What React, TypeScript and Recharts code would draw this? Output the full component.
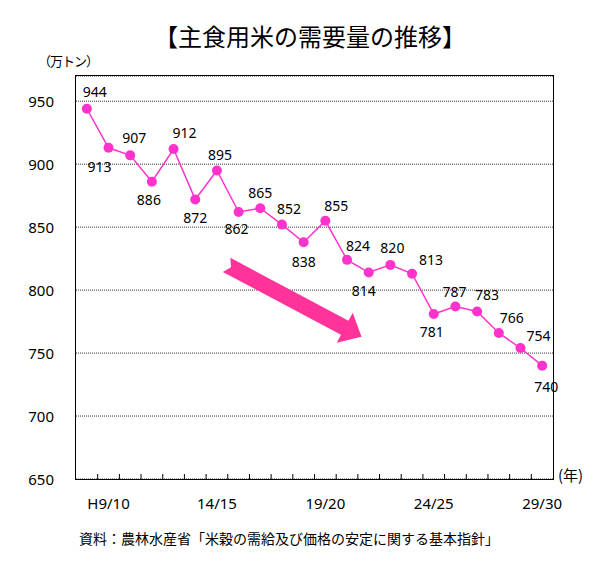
import React from 'react';
import { CartesianGrid, LabelList, Line, LineChart, ReferenceLine, XAxis, YAxis } from 'recharts';

const years = [
  'H8/9', 'H9/10', '10/11', '11/12', '12/13', '13/14', '14/15', '15/16', '16/17', '17/18', '18/19',
  '19/20', '20/21', '21/22', '22/23', '23/24', '24/25', '25/26', '26/27', '27/28', '28/29', '29/30',
];
const demand = [944, 913, 907, 886, 912, 872, 895, 862, 865, 852, 838, 855, 824, 814, 820, 813, 781, 787, 783, 766, 754, 740];
const shownYears = ['H9/10', '14/15', '19/20', '24/25', '29/30'];
const yTicks = [650, 700, 750, 800, 850, 900, 950];

const data = years.map((year, i) => ({ year, value: demand[i] }));

// where each value label sits relative to its point
const labelOffsets: [number, number][] = [
  [8, -17], [-9, 19], [4, -18], [-3, 18], [11, -17], [0, 18], [3, -16], [-2, 16], [0, -16], [7, -16], [0, 19],
  [11, -15], [11, -14], [-5, 18], [2, -17], [19, -14], [-2, 17], [-1, -15], [10, -17], [13, -15], [18, -13], [4, 21],
];

const W = 600;
const H = 566;
const PLOT_LEFT = 76;
const PLOT_RIGHT = 553;
const PLOT_TOP = 76;
const PLOT_BOTTOM = 479;
const BAND = (PLOT_RIGHT - PLOT_LEFT) / years.length;
const PINK = '#ff33cc';
const FONT = '"Noto Sans", sans-serif';
const JP = '"Noto Sans CJK JP", sans-serif';

const XTick = (props: any) => {
  const { x, payload } = props;
  const idx = payload.index;
  const bx = x + BAND / 2;
  return (
    <g>
      {idx < years.length - 1 && <line x1={bx} x2={bx} y1={PLOT_BOTTOM} y2={PLOT_BOTTOM - 5} stroke="#000" strokeWidth={1} />}
      {shownYears.includes(payload.value) && (
        <text x={x} y={503} textAnchor="middle" dominantBaseline="central" fontSize={15} fill="#000" fontFamily={FONT}>
          {payload.value}
        </text>
      )}
    </g>
  );
};

const YTick = (props: any) => {
  const { y, payload } = props;
  return (
    <text x={PLOT_LEFT - 22} y={y} textAnchor="end" dominantBaseline="central" fontSize={15} fill="#000" fontFamily={FONT}>
      {payload.value}
    </text>
  );
};

const ValueLabel = (props: any) => {
  const { x, y, value, index } = props;
  const [dx, dy] = labelOffsets[index] ?? [0, -15];
  return (
    <text x={x + dx} y={y + dy} textAnchor="middle" dominantBaseline="central" fontSize={14} fill="#000" fontFamily={FONT}>
      {value}
    </text>
  );
};

const Arrow = (props: any) => {
  const { x1, y1, x2, y2 } = props;
  if (x1 == null || x2 == null) return null;
  const L = Math.hypot(x2 - x1, y2 - y1);
  const ux = (x2 - x1) / L;
  const uy = (y2 - y1) / L;
  const px = -uy;
  const py = ux;
  const head = 19;
  const shaft = 8;
  const wing = 17;
  const pt = (u: number, v: number) => `${x1 + ux * u + px * v},${y1 + uy * u + py * v}`;
  const pts = [
    pt(0, -shaft), pt(L - head, -shaft), pt(L - head, -wing), pt(L, 0),
    pt(L - head, wing), pt(L - head, shaft), pt(0, shaft), pt(5, 0),
  ].join(' ');
  return <polygon points={pts} fill="#ff3399" />;
};

export default function App() {
  return (
    <div style={{ position: 'absolute', left: 0, top: 0, width: W, height: H, background: '#fff' }}>
      <div style={{ position: 'absolute', left: 0, width: 620, top: 20, textAlign: 'center', fontFamily: JP, fontSize: 24, lineHeight: '32px', color: '#000' }}>
        【主食用米の需要量の推移】
      </div>
      <div style={{ position: 'absolute', left: 38, top: 52, fontFamily: JP, fontSize: 13, lineHeight: '18px', color: '#000', letterSpacing: -1 }}>
        （万トン）
      </div>
      <div style={{ position: 'absolute', left: 558, top: 465, fontFamily: JP, fontSize: 15, lineHeight: '20px', color: '#000' }}>
        (年)
      </div>
      <div style={{ position: 'absolute', left: 79, top: 528, fontFamily: JP, fontSize: 14, lineHeight: '20px', color: '#000' }}>
        資料：農林水産省「米穀の需給及び価格の安定に関する基本指針」
      </div>
      <LineChart
        width={W}
        height={H}
        data={data}
        margin={{ top: PLOT_TOP, right: W - PLOT_RIGHT, bottom: H - PLOT_BOTTOM - 40, left: PLOT_LEFT - 60 }}
        style={{ position: 'absolute', left: 0, top: 0 }}
      >
        <CartesianGrid horizontal vertical={false} stroke="#333" strokeDasharray="1 1" />
        <XAxis
          dataKey="year"
          interval={0}
          height={40}
          axisLine={false}
          tickLine={false}
          tick={<XTick />}
          padding={{ left: BAND / 2, right: BAND / 2 }}
        />
        <XAxis xAxisId="num" type="number" domain={[-0.5, 21.5]} allowDataOverflow hide />
        <YAxis domain={[650, 970]} ticks={yTicks} width={60} axisLine={false} tickLine={false} tick={<YTick />} allowDataOverflow />
        <ReferenceLine
          xAxisId="num"
          segment={[{ x: 6.63, y: 820 }, { x: 12.57, y: 763 }]}
          shape={<Arrow />}
        />
        <Line
          type="linear"
          dataKey="value"
          stroke={PINK}
          strokeWidth={1.5}
          dot={{ r: 5, fill: PINK, stroke: PINK, strokeWidth: 0 }}
          isAnimationActive={false}
        >
          <LabelList dataKey="value" content={<ValueLabel />} />
        </Line>
      </LineChart>
      <div
        style={{
          position: 'absolute',
          left: PLOT_LEFT - 1,
          top: PLOT_TOP - 1,
          width: PLOT_RIGHT - PLOT_LEFT + 2,
          height: PLOT_BOTTOM - PLOT_TOP + 2,
          border: '1.5px solid #000',
          boxSizing: 'border-box',
          pointerEvents: 'none',
        }}
      />
    </div>
  );
}
